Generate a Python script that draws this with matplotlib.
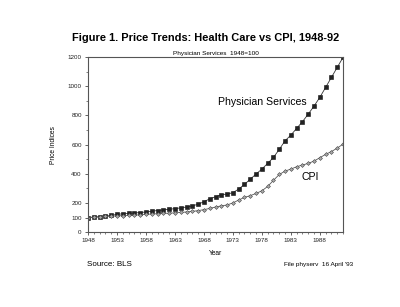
import matplotlib
matplotlib.use("Agg")
import matplotlib.pyplot as plt
from matplotlib.ticker import MultipleLocator, FixedLocator

years = list(range(1948, 1993))
physician = [100, 103, 106, 110, 114, 122, 125, 128, 131, 134, 138, 143, 148, 152, 156,
             161, 166, 172, 180, 191, 208, 228, 242, 256, 261, 270, 295, 327, 363, 398,
             432, 471, 512, 567, 626, 665, 711, 757, 809, 864, 924, 992, 1061, 1129, 1198]
cpi = [100, 101, 103, 107, 109, 111, 113, 114, 116, 119, 122, 124, 126, 128, 130,
       132, 135, 138, 142, 147, 154, 162, 172, 180, 186, 200, 220, 238, 250, 265,
       283, 313, 355, 395, 418, 432, 448, 460, 471, 487, 510, 533, 552, 576, 603]
xticks = [1948, 1953, 1958, 1963, 1968, 1973, 1978, 1983, 1988]
yticks = [0, 100, 200, 400, 600, 800, 1000, 1200]

plt.rcParams['font.family'] = ['Liberation Sans', 'DejaVu Sans']
fig = plt.figure(figsize=(4.0, 3.07), dpi=100)
ax = fig.add_axes([0.22, 0.244, 0.6375, 0.570])

ax.plot(years, physician, color='#333333', lw=0.6, marker='s', ms=2.6,
        mfc='#222222', mec='#111111', mew=0.4)
ax.plot(years, cpi, color='#555555', lw=0.6, marker='D', ms=2.0,
        mfc='#aaaaaa', mec='#444444', mew=0.4)

ax.set_xlim(1948, 1992)
ax.set_ylim(0, 1200)
ax.xaxis.set_major_locator(FixedLocator(xticks))
ax.xaxis.set_minor_locator(MultipleLocator(1))
ax.yaxis.set_major_locator(FixedLocator(yticks))
ax.yaxis.set_minor_locator(MultipleLocator(100))
ax.tick_params(axis='both', which='major', labelsize=4.5, length=2.5, width=0.5, pad=2, colors='#222222')
ax.tick_params(axis='both', which='minor', length=1.5, width=0.4, colors='#222222')
for s in ax.spines.values():
    s.set_linewidth(0.8)
    s.set_color('#555555')

ax.set_ylabel('Price Indices', fontsize=4.8, labelpad=8)
ax.set_xlabel('Year', fontsize=4.8, labelpad=5)

ax.text(0.5, 1.008, 'Physician Services  1948=100', transform=ax.transAxes,
        ha='center', va='bottom', fontsize=4.6)
fig.text(0.513, 0.876, 'Figure 1. Price Trends: Health Care vs CPI, 1948-92',
         ha='center', va='center', fontsize=7.9, fontweight='bold')

ax.text(1970.4, 890, 'Physician Services', fontsize=7.6, ha='left', va='center')
ax.text(1984.8, 375, 'CPI', fontsize=7.6, ha='left', va='center')

fig.text(0.217, 0.14, 'Source: BLS', fontsize=5.8, ha='left', va='center')
fig.text(0.883, 0.14, "File physerv  16 April '93", fontsize=4.6, ha='right', va='center')

fig.savefig('out.png', dpi=100)
